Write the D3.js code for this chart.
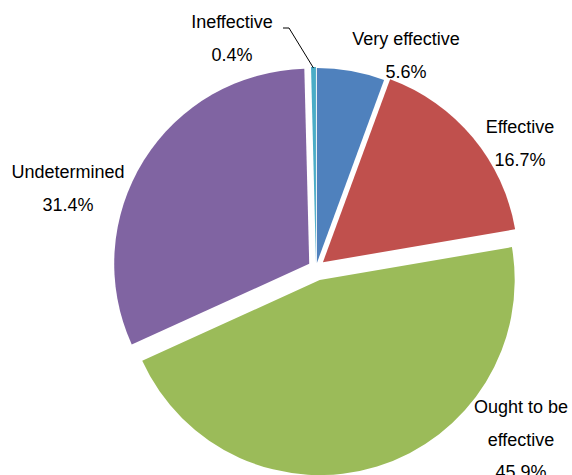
<!DOCTYPE html>
<html>
<head>
<meta charset="utf-8">
<script src="https://cdn.jsdelivr.net/npm/d3@7/dist/d3.min.js"></script>
<style>
  html, body { margin: 0; padding: 0; background: #fff; }
  svg { display: block; }
  text { font-family: "Liberation Sans", Arial, sans-serif; font-size: 18px; fill: #000; }
</style>
</head>
<body>
<svg id="chart" width="572" height="475"></svg>
<script>
// ---- data ----
const categories = ["Very effective", "Effective", "Ought to be effective", "Undetermined", "Ineffective"];
const values = [5.6, 16.7, 45.9, 31.4, 0.4];
const valueLabels = ["5.6%", "16.7%", "45.9%", "31.4%", "0.4%"];

// ---- style / layout ----
const colors = ["#4F81BD", "#C0504D", "#9BBB59", "#8064A2", "#4BACC6"];
const explode = [5, 9, 12.6, 8, 6];
const labelLines = [["Very effective"], ["Effective"], ["Ought to be", "effective"], ["Undetermined"], ["Ineffective"]];
const labelPos = [[406, 45], [520, 133], [521, 413], [68, 178], [232, 28]];
const lineGap = 32.5;

const W = 572, H = 475;
const cx = 316, cy = 268, R = 195;

const svg = d3.select("#chart");
const g = svg.append("g").attr("transform", `translate(${cx},${cy})`);

const pie = d3.pie().sort(null).value(d => d).startAngle(0).endAngle(2 * Math.PI);
const arcs = pie(values);
const arc = d3.arc().innerRadius(0).outerRadius(R);

function offset(d, i) {
  const a = (d.startAngle + d.endAngle) / 2;
  return [Math.sin(a) * explode[i], -Math.cos(a) * explode[i]];
}

g.selectAll("path.slice")
  .data(arcs)
  .join("path")
  .attr("class", "slice")
  .attr("d", arc)
  .attr("fill", (d, i) => colors[i])
  .attr("transform", (d, i) => { const o = offset(d, i); return `translate(${o[0]},${o[1]})`; });

// labels
arcs.forEach((d, i) => {
  const lines = labelLines[i].concat([valueLabels[i]]);
  const t = svg.append("text")
    .attr("text-anchor", "middle")
    .attr("x", labelPos[i][0])
    .attr("y", labelPos[i][1]);
  lines.forEach((ln, k) => {
    t.append("tspan")
      .attr("x", labelPos[i][0])
      .attr("y", labelPos[i][1] + k * lineGap)
      .text(ln);
  });
});

// leader line for Ineffective
{
  const i = 4, d = arcs[i];
  const a = (d.startAngle + d.endAngle) / 2;
  const o = offset(d, i);
  const px = cx + o[0] + Math.sin(a) * (R - 1);
  const py = cy + o[1] - Math.cos(a) * (R - 1);
  const sx = labelPos[i][0] + 51, sy = labelPos[i][1];
  svg.append("polyline")
    .attr("points", `${sx},${sy} ${sx + 6},${sy} ${px},${py}`)
    .attr("fill", "none")
    .attr("stroke", "#000")
    .attr("stroke-width", 1);
}
</script>
</body>
</html>
